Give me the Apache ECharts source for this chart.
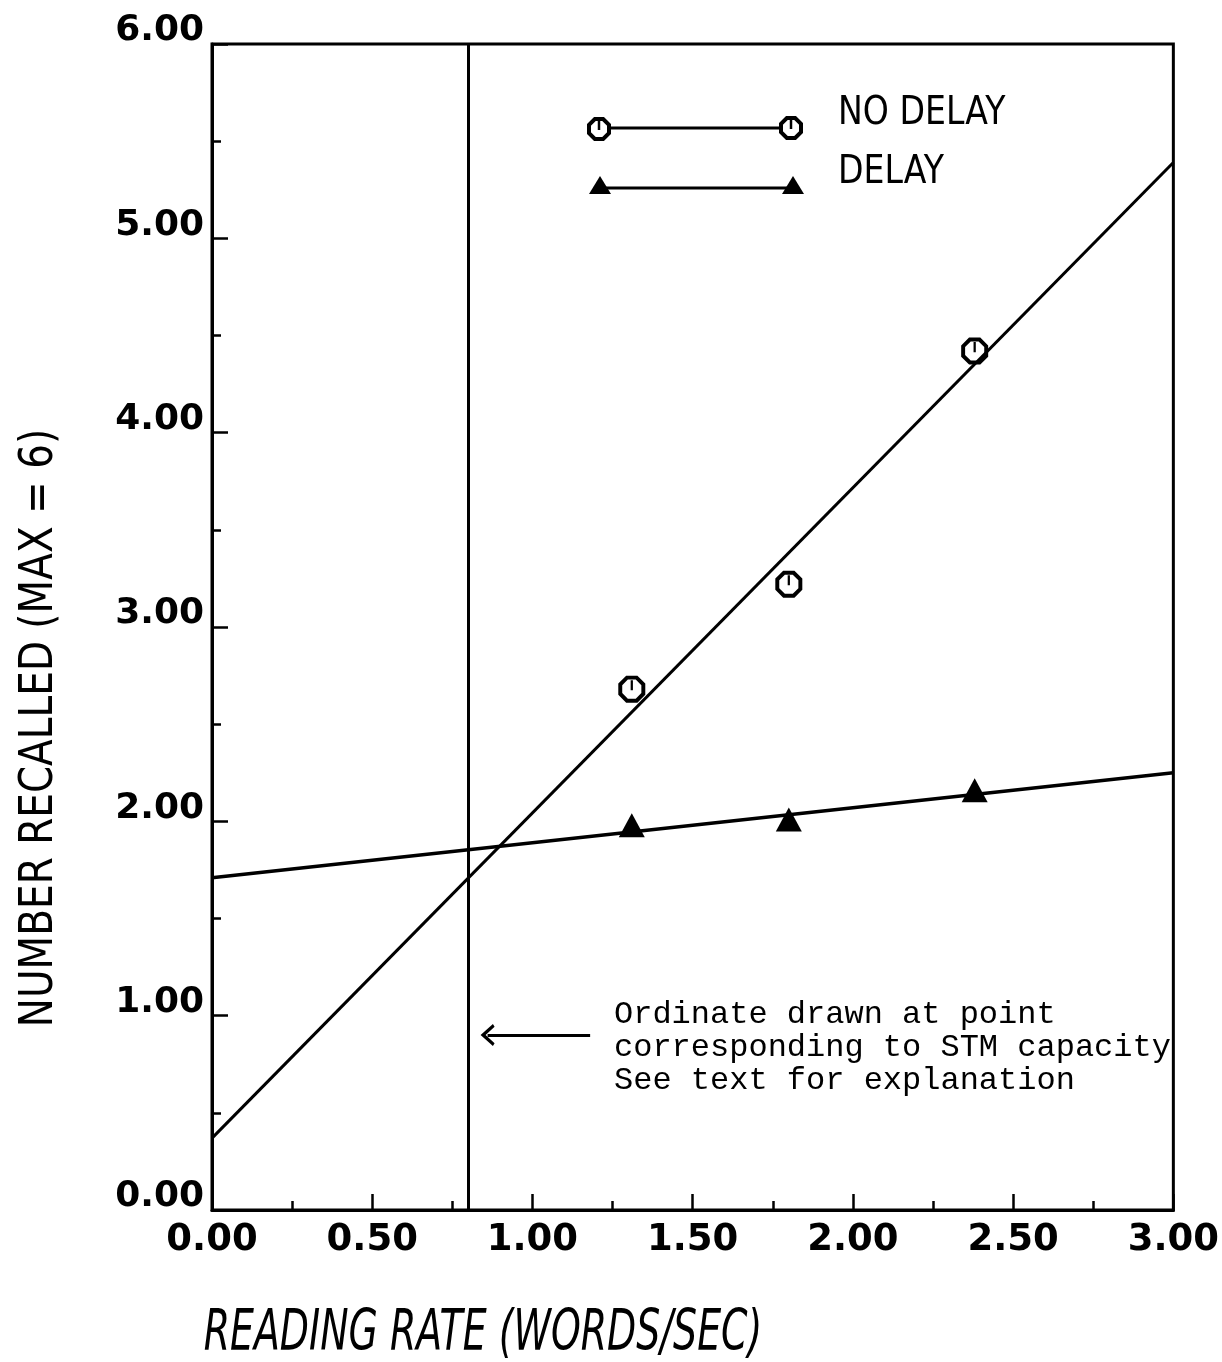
<!DOCTYPE html>
<html>
<head>
<meta charset="utf-8">
<script src="https://cdn.jsdelivr.net/npm/echarts@6/dist/echarts.min.js"></script>
<style>
html,body{margin:0;padding:0;background:#fff;}
#chart{width:1222px;height:1362px;}
</style>
</head>
<body>
<div id="chart"></div>
<script>
// ---- data ----
const pointX = [1.31, 1.80, 2.38];
const noDelayY = [2.68, 3.22, 4.42];
const delayY = [1.98, 2.01, 2.16];
const fitX = [0, 3];
const noDelayFit = [0.37, 5.39];
const delayFit = [1.71, 2.25];
const ordinateX = 0.80;
const arrowFromX = 1.18, arrowToX = 0.86, arrowY = 0.90;
const seriesNames = ['NO DELAY', 'DELAY'];
const yTitle = 'NUMBER RECALLED (MAX = 6)';
const xTitle = 'READING RATE (WORDS/SEC)';
const noteLines = ['Ordinate drawn at point', 'corresponding to STM capacity', 'See text for explanation'];

const LABEL_FONT = '"DejaVu Sans","Liberation Sans",sans-serif';
const NOTE_FONT = '"Liberation Mono","DejaVu Sans Mono",monospace';

const OCT = 'path://M7,0 L17,0 L24,7 L24,17 L17,24 L7,24 L0,17 L0,7 Z M8.5,3.5 L3.5,8.5 L3.5,15.5 L8.5,20.5 L15.5,20.5 L20.5,15.5 L20.5,8.5 L15.5,3.5 Z M11,4 L13,4 L13,13 L11,13 Z';
const CHEVRON = 'path://M0,11 L10,0 L20,11 L17.5,12.5 L10,4.5 L2.5,12.5 Z';

const zip = (xs, ys) => xs.map((x, i) => [x, ys[i]]);
const black = '#000';

function octagonGraphic(cx, cy, r) {
  const k = r * 0.414;
  const pts = [[cx - k, cy - r], [cx + k, cy - r], [cx + r, cy - k], [cx + r, cy + k],
               [cx + k, cy + r], [cx - k, cy + r], [cx - r, cy + k], [cx - r, cy - k]];
  return [
    {type: 'polygon', shape: {points: pts}, style: {fill: '#fff', stroke: black, lineWidth: 4}, z: 10},
    {type: 'line', shape: {x1: cx, y1: cy - r + 2, x2: cx, y2: cy + 1}, style: {stroke: black, lineWidth: 2.5}, z: 11}
  ];
}

const chart = echarts.init(document.getElementById('chart'), null, {renderer: 'canvas'});

const option = {
  backgroundColor: '#fff',
  animation: false,
  grid: {left: 212, right: 47, top: 44, bottom: 152, show: true, borderColor: black, borderWidth: 3, backgroundColor: 'transparent'},
  xAxis: {
    type: 'value', min: 0, max: 3, interval: 0.5,
    axisLine: {show: true, lineStyle: {color: black, width: 3}},
    axisTick: {show: true, inside: true, length: 16, lineStyle: {color: black, width: 2.5}},
    minorTick: {show: true, splitNumber: 2, length: 9, lineStyle: {color: black, width: 2.5}},
    splitLine: {show: false},
    axisLabel: {color: black, fontFamily: LABEL_FONT, fontWeight: 'bold', fontSize: 37, margin: 12, formatter: v => v.toFixed(2)}
  },
  yAxis: {
    type: 'value', min: 0, max: 6, interval: 1,
    axisLine: {show: true, lineStyle: {color: black, width: 3}},
    axisTick: {show: true, inside: true, length: 16, lineStyle: {color: black, width: 2.5}},
    minorTick: {show: true, splitNumber: 2, length: 9, lineStyle: {color: black, width: 2.5}},
    splitLine: {show: false},
    axisLabel: {color: black, fontFamily: LABEL_FONT, fontWeight: 'bold', fontSize: 36, margin: 8, verticalAlign: 'bottom', lineHeight: 26, formatter: v => v.toFixed(2)}
  },
  series: [
    {
      name: seriesNames[0] + ' fit', type: 'line', data: zip(fitX, noDelayFit), symbol: 'none',
      lineStyle: {color: black, width: 3}, z: 2,
      markLine: {
        silent: true, symbol: ['none', 'none'], label: {show: false},
        lineStyle: {color: black, width: 3, type: 'solid'},
        data: [{xAxis: ordinateX}]
      }
    },
    {
      name: seriesNames[1] + ' fit', type: 'line', data: zip(fitX, delayFit), symbol: 'none',
      lineStyle: {color: black, width: 3.5}, z: 2,
      markLine: {
        silent: true, symbol: ['none', CHEVRON], symbolSize: [22, 14], label: {show: false},
        lineStyle: {color: black, width: 3, type: 'solid'},
        data: [[{coord: [arrowFromX, arrowY]}, {coord: [arrowToX, arrowY]}]]
      }
    },
    {
      name: seriesNames[0], type: 'scatter', data: zip(pointX, noDelayY),
      symbol: OCT, symbolSize: 27, itemStyle: {color: black, opacity: 1}, z: 5
    },
    {
      name: seriesNames[1], type: 'scatter', data: zip(pointX, delayY),
      symbol: 'triangle', symbolSize: [26, 24], itemStyle: {color: black, opacity: 1}, z: 5
    }
  ],
  graphic: [
    // legend samples
    {type: 'line', shape: {x1: 600, y1: 128, x2: 790, y2: 128}, style: {stroke: black, lineWidth: 3}},
    ...octagonGraphic(599, 129, 10),
    ...octagonGraphic(791, 128, 10),
    {type: 'line', shape: {x1: 600, y1: 188, x2: 792, y2: 188}, style: {stroke: black, lineWidth: 3}},
    {type: 'polygon', shape: {points: [[600, 176], [589, 194], [611, 194]]}, style: {fill: black}},
    {type: 'polygon', shape: {points: [[793, 176], [782, 194], [804, 194]]}, style: {fill: black}},
    {type: 'text', x: 838, y: 114, scaleX: 0.85, style: {text: seriesNames[0], fontFamily: LABEL_FONT, fontSize: 39, fill: black, verticalAlign: 'middle', align: 'left'}},
    {type: 'text', x: 838, y: 173, scaleX: 0.85, style: {text: seriesNames[1], fontFamily: LABEL_FONT, fontSize: 39, fill: black, verticalAlign: 'middle', align: 'left'}},
    // annotation text
    {type: 'text', x: 614, y: 998, style: {text: noteLines.join('\n'), fontFamily: NOTE_FONT, fontSize: 32, lineHeight: 33, fill: black, align: 'left', verticalAlign: 'top'}},
    // axis titles
    {type: 'text', x: 40, y: 728, rotation: Math.PI / 2, scaleX: 0.83, style: {text: yTitle, fontFamily: LABEL_FONT, fontSize: 47, fill: black, align: 'center', verticalAlign: 'middle'}},
    {type: 'text', x: 483, y: 1335, scaleX: 0.665, style: {text: xTitle, fontFamily: LABEL_FONT, fontStyle: 'italic', fontSize: 57, fill: black, align: 'center', verticalAlign: 'middle'}}
  ]
};
chart.setOption(option);
</script>
</body>
</html>
